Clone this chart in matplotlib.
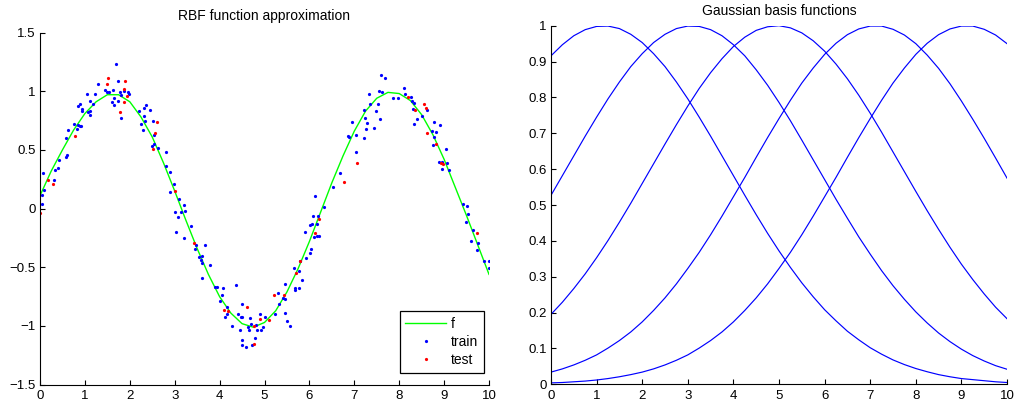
"""RBF function approximation (left) and the Gaussian basis functions (right)."""

import numpy as np
import matplotlib
matplotlib.use("Agg")
import matplotlib.pyplot as plt
from matplotlib.ticker import FixedLocator, FuncFormatter

plt.rcParams["font.family"] = ["Liberation Sans", "DejaVu Sans"]

# --- data ---
# fitted function f, sampled every 0.25
f_x = np.linspace(0, 10, 41)
f_y = [0.11, 0.32, 0.50, 0.67, 0.81, 0.91, 0.97, 0.97, 0.91, 0.78,
       0.61, 0.39, 0.15, -0.10, -0.34, -0.56, -0.75, -0.89, -0.98, -1.01,
       -0.97, -0.87, -0.71, -0.51, -0.28, -0.03, 0.22, 0.45, 0.66, 0.83,
       0.94, 0.99, 0.98, 0.92, 0.80, 0.63, 0.42, 0.18, -0.06, -0.31, -0.56]

train_x = [0.05, 0.04, 0.08, 0.07, 0.32, 0.33, 0.39, 0.42, 0.59, 0.61, 0.57, 0.62, 0.75, 0.82,
           0.85, 0.88, 0.91, 0.84, 0.88, 0.93, 0.93, 1.05, 1.06, 1.11, 1.12, 1.11, 1.17, 1.22,
           1.30, 1.45, 1.49, 1.54, 1.62, 1.61, 1.64, 1.65, 1.69, 1.73, 1.74, 1.78, 1.81, 1.81,
           1.88, 1.97, 1.99, 2.21, 2.26, 2.29, 2.32, 2.32, 2.35, 2.33, 2.45,
           2.52, 2.53, 2.53, 2.49, 2.62, 2.81, 2.81, 2.90, 2.98, 2.89, 3.10, 3.20, 3.23, 3.15,
           3.01, 3.07, 3.04, 3.21, 3.36, 3.47, 3.45, 3.67, 3.55, 3.61, 3.58, 3.61, 3.79, 3.60,
           3.90, 3.94, 4.07, 4.05, 4.02, 4.16, 4.36, 4.17, 4.11, 4.28, 4.40, 4.47, 4.50, 4.51,
           4.45, 4.51, 4.51, 4.58, 4.68, 4.69, 4.64, 4.66, 4.73, 4.78, 4.82, 4.83, 4.89,
           4.92, 4.97, 5.02, 5.24, 5.32, 5.29, 5.42, 5.45, 5.46, 5.46, 5.49, 5.57, 5.66, 5.68,
           5.69, 5.77, 5.76, 5.79, 5.84, 5.92, 5.90, 6.02, 6.04, 6.01, 6.06, 6.08, 6.10, 6.13,
           6.16, 6.20, 6.17, 6.21, 6.32, 6.52, 6.69, 6.85, 6.88, 6.94, 7.04, 7.04, 7.22, 7.22,
           7.23, 7.25, 7.29, 7.33, 7.35,
           7.43, 7.49, 7.52, 7.55, 7.58, 7.62, 7.59, 7.68, 7.87, 7.97, 8.11, 8.14, 8.27, 8.29,
           8.32, 8.31, 8.39, 8.32, 8.51, 8.61, 8.73, 8.78, 8.81, 8.78, 8.75, 8.91, 9.05, 8.88,
           8.96, 8.96, 9.07, 9.12, 9.41, 9.50, 9.53, 9.48, 9.64, 9.61, 9.75, 9.74, 9.88, 9.99,
           10.0]
train_y = [0.04, 0.12, 0.16, 0.30, 0.24, 0.33, 0.35, 0.41, 0.44, 0.46, 0.60, 0.67, 0.72, 0.68,
           0.71, 0.70, 0.70, 0.87, 0.89, 0.85, 0.83, 0.98, 0.82, 0.83, 0.80, 0.92, 0.89, 0.98,
           1.06, 1.01, 0.99, 0.99, 1.01, 0.91, 0.94, 0.88, 1.23, 0.92, 1.09, 0.99, 0.97, 0.77,
           1.00, 0.99, 0.98, 0.83, 0.72, 0.67, 0.79, 0.86, 0.88, 0.75, 0.84,
           0.75, 0.63, 0.55, 0.53, 0.52, 0.48, 0.36, 0.31, 0.21, 0.14, 0.08, 0.03, -0.02, -0.03,
           -0.03, -0.07, -0.20, -0.25, -0.15, -0.31, -0.34, -0.31, -0.41, -0.40, -0.44, -0.46, -0.48, -0.59,
           -0.67, -0.67, -0.68, -0.74, -0.79, -0.84, -0.65, -0.90, -0.92, -1.00, -0.90, -0.92, -0.92, -0.81,
           -1.03, -1.12, -1.16, -1.18, -0.93, -0.98, -1.01, -1.03, -1.16, -1.10, -0.99, -1.03, -0.90,
           -1.03, -1.01, -0.92, -0.90, -0.81, -0.72, -0.76, -0.77, -0.64, -0.89, -0.96, -1.00, -0.51, -0.68,
           -0.69, -0.68, -0.53, -0.45, -0.61, -0.42, -0.20, -0.38, -0.34, -0.14, -0.13, -0.06, -0.24, 0.11,
           -0.13, -0.06, -0.23, -0.23, 0.01, 0.18, 0.30, 0.62, 0.61, 0.74, 0.63, 0.48, 0.60, 0.84,
           0.77, 0.68, 0.73, 0.98, 0.89,
           0.69, 0.83, 0.89, 1.00, 0.76, 0.99, 1.14, 1.11, 0.94, 0.94, 1.03, 0.98, 0.95, 0.92,
           0.90, 0.85, 0.76, 0.72, 0.79, 0.84, 0.66, 0.74, 0.65, 0.61, 0.54, 0.71, 0.51, 0.40,
           0.40, 0.34, 0.39, 0.33, 0.04, 0.02, -0.05, -0.11, -0.18, -0.28, -0.29, -0.35, -0.45, -0.45,
           -0.51]

test_x = [0.01, 0.18, 0.29, 0.77, 1.50, 1.52, 1.78, 1.86, 1.89, 1.87, 1.93, 2.60, 2.56, 2.52,
          3.01, 3.43, 4.10, 4.18, 4.61, 4.76, 4.77, 4.89, 5.09, 5.22, 5.43, 5.70, 5.80, 6.12,
          6.22, 6.77, 7.06, 8.20, 8.36, 8.56, 8.60, 8.63, 8.81, 8.93, 8.97, 9.74]
test_y = [-0.04, 0.24, 0.21, 0.62, 1.06, 1.11, 0.82, 1.02, 1.09, 0.91, 0.96, 0.74, 0.64, 0.51,
          0.15, -0.29, -0.86, -0.87, -0.84, -1.00, -1.15, -0.94, -0.95, -0.74, -0.74, -0.55, -0.45, -0.21,
          -0.09, 0.23, 0.39, 0.95, 0.84, 0.89, 0.86, 0.64, 0.55, 0.39, 0.38, -0.21]

# Gaussian basis functions, sampled every 0.25
basis_x = np.linspace(0, 10, 41)
basis_1 = [0.916, 0.947, 0.972, 0.989, 0.998, 0.999, 0.992, 0.976, 0.953, 0.922, 0.886,
           0.843, 0.796, 0.745, 0.692, 0.637, 0.582, 0.527, 0.473, 0.421, 0.372, 0.326,
           0.283, 0.244, 0.208, 0.177, 0.148, 0.124, 0.102, 0.084, 0.068, 0.055, 0.044,
           0.035, 0.027, 0.021, 0.016, 0.013, 0.010, 0.007, 0.005]
basis_2 = [0.527, 0.582, 0.637, 0.692, 0.745, 0.796, 0.843, 0.886, 0.922, 0.953, 0.976,
           0.992, 0.999, 0.998, 0.989, 0.972, 0.947, 0.916, 0.877, 0.834, 0.786, 0.735,
           0.681, 0.626, 0.571, 0.516, 0.463, 0.411, 0.363, 0.317, 0.275, 0.237, 0.202,
           0.171, 0.143, 0.119, 0.098, 0.080, 0.065, 0.052, 0.042]
basis_3 = [0.195, 0.229, 0.267, 0.308, 0.353, 0.401, 0.452, 0.505, 0.560, 0.615, 0.670,
           0.724, 0.776, 0.825, 0.869, 0.908, 0.942, 0.968, 0.987, 0.997, 1.000, 0.994,
           0.980, 0.958, 0.929, 0.893, 0.852, 0.806, 0.756, 0.703, 0.648, 0.593, 0.538,
           0.484, 0.432, 0.382, 0.335, 0.292, 0.252, 0.215, 0.183]
basis_4 = [0.034, 0.043, 0.054, 0.067, 0.082, 0.101, 0.122, 0.146, 0.174, 0.206, 0.241,
           0.280, 0.323, 0.368, 0.417, 0.469, 0.523, 0.577, 0.633, 0.688, 0.741, 0.792,
           0.840, 0.882, 0.920, 0.951, 0.975, 0.991, 0.999, 0.999, 0.990, 0.974, 0.950,
           0.918, 0.881, 0.838, 0.790, 0.739, 0.686, 0.631, 0.575]
basis_5 = [0.004, 0.005, 0.007, 0.009, 0.012, 0.016, 0.021, 0.027, 0.034, 0.043, 0.054,
           0.067, 0.082, 0.101, 0.122, 0.146, 0.174, 0.206, 0.241, 0.280, 0.323, 0.368,
           0.417, 0.469, 0.523, 0.577, 0.633, 0.688, 0.741, 0.792, 0.840, 0.882, 0.920,
           0.951, 0.975, 0.991, 0.999, 0.999, 0.990, 0.974, 0.950]

x_ticks = list(range(11))
left_yticks = [-1.5, -1, -0.5, 0, 0.5, 1, 1.5]
right_yticks = [0, 0.1, 0.2, 0.3, 0.4, 0.5, 0.6, 0.7, 0.8, 0.9, 1]


def fmt(v, pos):
    return ("%g" % v).replace("-", "\u2212")


def style_axes(ax, yticks):
    ax.spines["top"].set_visible(False)
    ax.spines["right"].set_visible(False)
    for s in ("left", "bottom"):
        ax.spines[s].set_linewidth(0.8)
    ax.xaxis.set_major_locator(FixedLocator(x_ticks))
    ax.yaxis.set_major_locator(FixedLocator(yticks))
    ax.xaxis.set_major_formatter(FuncFormatter(fmt))
    ax.yaxis.set_major_formatter(FuncFormatter(fmt))
    ax.tick_params(direction="in", length=3.5, width=0.8, labelsize=9.5, colors="black")
    ax.tick_params(axis="x", pad=4)
    ax.tick_params(axis="y", pad=3)


fig = plt.figure(figsize=(10.17, 4.12), dpi=100)

# --- left: approximation ---
ax1 = fig.add_axes([40 / 1017, 1 - 384.7 / 412, 449 / 1017, 352.2 / 412])
ax1.plot(f_x, f_y, color="lime", linewidth=1.0, label="f")
ax1.plot(train_x, train_y, "o", color="blue", markersize=2.3, markeredgewidth=0, label="train")
ax1.plot(test_x, test_y, "o", color="red", markersize=2.3, markeredgewidth=0, label="test")
ax1.set_xlim(0, 10)
ax1.set_ylim(-1.5, 1.5)
style_axes(ax1, left_yticks)
ax1.set_title("RBF function approximation", fontsize=10, pad=9)
leg = ax1.legend(loc="lower right", bbox_to_anchor=(0.989, 0.034), borderaxespad=0,
                 fontsize=10, numpoints=1, handlelength=2.9, handletextpad=0.4,
                 labelspacing=0.3, fancybox=False, framealpha=1, borderpad=0.4)
leg.get_frame().set_edgecolor("black")
leg.get_frame().set_linewidth(0.9)

# --- right: basis functions ---
ax2 = fig.add_axes([551 / 1017, 1 - 384.3 / 412, 456 / 1017, 358.6 / 412])
for ys in (basis_1, basis_2, basis_3, basis_4, basis_5):
    ax2.plot(basis_x, ys, color="blue", linewidth=0.85)
ax2.set_xlim(0, 10)
ax2.set_ylim(0, 1)
style_axes(ax2, right_yticks)
ax2.set_title("Gaussian basis functions", fontsize=10, pad=7.5)

fig.savefig("out.png", dpi=100)
